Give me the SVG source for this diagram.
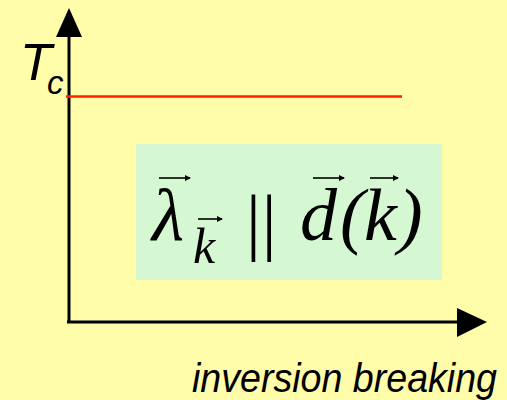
<svg xmlns="http://www.w3.org/2000/svg" width="507" height="400" viewBox="0 0 507 400">
<style>
.ax{stroke:#000;stroke-width:3;fill:none}
.m{font-family:"Liberation Serif","Times New Roman",serif;font-style:italic;font-size:74px;fill:#000}
.vec{stroke:#000;stroke-width:1.6;fill:none}
.sans{font-family:"Liberation Sans",Arial,sans-serif;font-style:italic;fill:#000}
</style>
<defs>
<marker id="ah" markerWidth="6" markerHeight="6" refX="5" refY="3" orient="auto" markerUnits="userSpaceOnUse"><path d="M0,0 L6,3 L0,6 Z" fill="#000"/></marker>
</defs>
<rect width="507" height="400" fill="#FFFCAA"/>
<g id="connectors">
<line class="ax" x1="69" y1="322" x2="69" y2="30"/>
<path d="M69,8 L56,37 L82,37 Z" fill="#000"/>
<line class="ax" x1="67" y1="322" x2="460" y2="322"/>
<path d="M487,322 L457,308 L457,337 Z" fill="#000"/>
<line x1="66" y1="96.5" x2="402" y2="96.5" stroke="#FF2200" stroke-width="2.5"/>
</g>
<g id="label-tc">
<text class="sans" x="20" y="80" font-size="52">T</text>
<text class="sans" x="47" y="94" font-size="33">c</text>
</g>
<g id="box">
<rect x="136" y="144" width="306" height="136" fill="#D5F8D2"/>
<text class="m" x="152" y="240">λ</text>
<text class="m" x="193" y="263" style="font-size:50px">k</text>
<text class="m" x="246" y="246" style="font-style:normal" letter-spacing="1">||</text>
<text class="m" x="300" y="240">d</text>
<text class="m" x="340" y="240">(</text>
<text class="m" x="364" y="240">k</text>
<text class="m" x="398" y="240">)</text>
<line class="vec" x1="159" y1="178" x2="190" y2="178" marker-end="url(#ah)"/>
<line class="vec" x1="198" y1="219" x2="222" y2="219" marker-end="url(#ah)"/>
<line class="vec" x1="313" y1="178" x2="344" y2="178" marker-end="url(#ah)"/>
<line class="vec" x1="370" y1="178" x2="398" y2="178" marker-end="url(#ah)"/>
</g>
<g id="label-axis">
<text class="sans" x="192" y="392" font-size="40" textLength="305" lengthAdjust="spacingAndGlyphs">inversion breaking</text>
</g>
</svg>
